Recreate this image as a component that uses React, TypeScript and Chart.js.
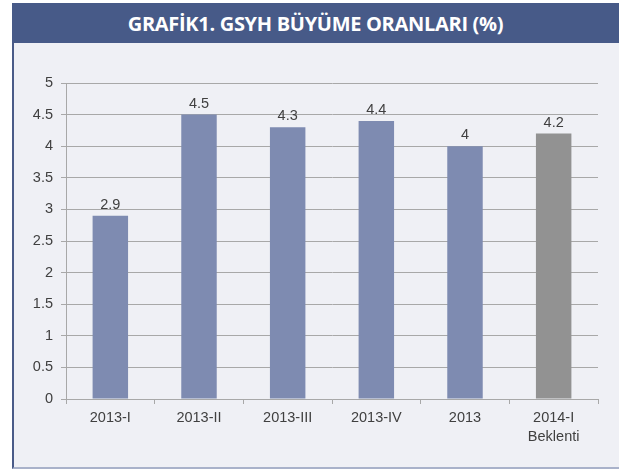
import React, { useEffect, useRef } from 'react';
import { Chart, registerables } from 'chart.js';

Chart.register(...registerables);

const categories: (string | string[])[] = ['2013-I', '2013-II', '2013-III', '2013-IV', '2013', ['2014-I', 'Beklenti']];
const growth = [2.9, 4.5, 4.3, 4.4, 4, 4.2];
const yMin = 0;
const yMax = 5;
const yStep = 0.5;
const title = 'GRAFİK1. GSYH BÜYÜME ORANLARI (%)';

const BLUE = '#7e8bb1';
const GRAY = '#929292';
const barColors = growth.map((_, i) => (i === growth.length - 1 ? GRAY : BLUE));
const FONT = '"Liberation Sans", Arial, sans-serif';
const FS = 14.5;
const TEXT = '#404040';
const GRID = '#a8a8a8';

const valueLabels = {
  id: 'valueLabels',
  afterDatasetsDraw(chart: any) {
    const ctx = chart.ctx;
    const meta = chart.getDatasetMeta(0);
    ctx.save();
    ctx.font = `${FS}px ${FONT}`;
    ctx.fillStyle = TEXT;
    ctx.textAlign = 'center';
    ctx.textBaseline = 'alphabetic';
    meta.data.forEach((el: any, i: number) => {
      ctx.fillText(String(growth[i]), el.x, el.y - 7);
    });
    ctx.restore();
  },
};

export default function App() {
  const ref = useRef<HTMLCanvasElement | null>(null);

  useEffect(() => {
    if (!ref.current) return;
    const chart = new Chart(ref.current, {
      type: 'bar',
      data: {
        labels: categories,
        datasets: [
          {
            data: growth,
            backgroundColor: barColors,
            borderWidth: 0,
            categoryPercentage: 1,
            barPercentage: 0.4,
          },
        ],
      },
      options: {
        animation: false,
        responsive: false,
        maintainAspectRatio: false,
        layout: { padding: { top: 83, right: 21, bottom: 0, left: 0 } },
        plugins: { legend: { display: false }, tooltip: { enabled: false }, title: { display: false } },
        scales: {
          x: {
            grid: { display: true, drawOnChartArea: false, drawTicks: true, tickLength: 5, color: GRID, offset: true },
            border: { display: true, color: GRID },
            ticks: { font: { family: FONT, size: FS, lineHeight: 1.35 }, color: TEXT, padding: 4, maxRotation: 0, autoSkip: false },
            afterFit: (s: any) => {
              s.height = 72;
            },
          },
          y: {
            min: yMin,
            max: yMax,
            grid: { color: GRID, tickLength: 5, drawTicks: true },
            border: { display: true, color: GRID },
            ticks: {
              stepSize: yStep,
              font: { family: FONT, size: FS },
              color: TEXT,
              padding: 8,
              callback: (v: any) => String(Number(v)),
            },
            afterFit: (s: any) => {
              s.width = 66;
            },
          },
        },
      },
      plugins: [valueLabels],
    });
    return () => chart.destroy();
  }, []);

  return (
    <div style={{ position: 'fixed', left: 0, top: 0, width: 619, height: 471, background: '#ffffff', overflow: 'hidden' }}>
      <div
        style={{
          position: 'absolute',
          left: 12,
          top: 43,
          width: 607,
          height: 426,
          background: '#eff0f5',
          borderLeft: '2px solid #4a5b88',
          borderBottom: '2px solid #a9b2ca',
          boxSizing: 'border-box',
        }}
      />
      <div
        style={{
          position: 'absolute',
          left: 12,
          top: 3,
          width: 607,
          height: 40,
          background: '#475a88',
          color: '#ffffff',
          fontFamily: '"Open Sans", sans-serif',
          fontWeight: 700,
          fontSize: 20,
          lineHeight: '42px',
          textAlign: 'center',
          letterSpacing: -0.3,
          whiteSpace: 'nowrap',
        }}
      >
        {title}
      </div>
      <canvas ref={ref} width={619} height={471} style={{ position: 'absolute', left: 0, top: 0, width: 619, height: 471 }} />
    </div>
  );
}
